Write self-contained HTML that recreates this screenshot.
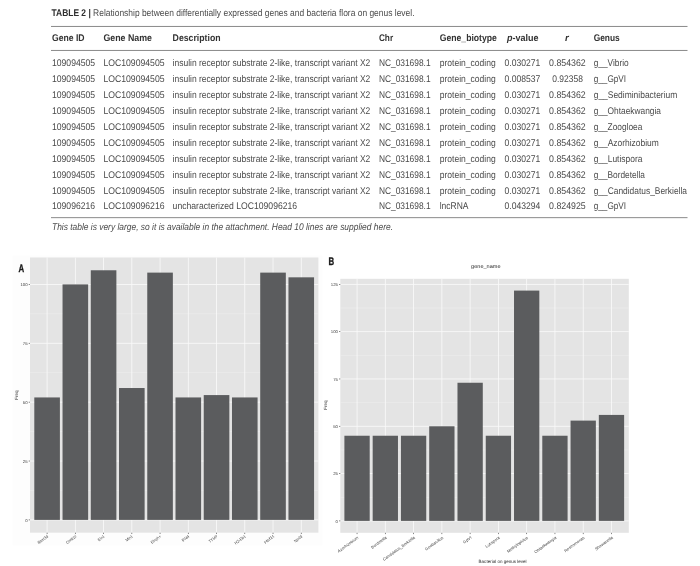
<!DOCTYPE html>
<html><head><meta charset="utf-8"><title>Table 2</title>
<style>html,body{margin:0;padding:0;background:#fff;}body{width:700px;height:566px;overflow:hidden;}svg{display:block;will-change:transform;text-rendering:geometricPrecision;filter:blur(0.35px);}text{font-family:"Liberation Sans",sans-serif;}</style></head><body>
<svg width="700" height="566" viewBox="0 0 700 566">
<rect x="0" y="0" width="700" height="566" fill="#ffffff"/>
<text x="51.5" y="16.1" font-size="9.7" fill="#4a4a4a" textLength="363" lengthAdjust="spacingAndGlyphs"><tspan font-weight="bold" fill="#2e2e2e">TABLE 2 |</tspan> Relationship between differentially expressed genes and bacteria flora on genus level.</text>
<rect x="51" y="25.95" width="636.5" height="1" fill="#8a8a8a"/>
<rect x="51" y="49.95" width="636.5" height="1" fill="#8a8a8a"/>
<rect x="51" y="217.15" width="636.5" height="1" fill="#8a8a8a"/>
<text x="52" y="41.4" font-size="9.7" font-weight="bold" font-style="normal" fill="#333333" text-anchor="start" textLength="32.6" lengthAdjust="spacingAndGlyphs">Gene ID</text>
<text x="103.4" y="41.4" font-size="9.7" font-weight="bold" font-style="normal" fill="#333333" text-anchor="start" textLength="48.6" lengthAdjust="spacingAndGlyphs">Gene Name</text>
<text x="172.6" y="41.4" font-size="9.7" font-weight="bold" font-style="normal" fill="#333333" text-anchor="start" textLength="48" lengthAdjust="spacingAndGlyphs">Description</text>
<text x="378.9" y="41.4" font-size="9.7" font-weight="bold" font-style="normal" fill="#333333" text-anchor="start" textLength="14.2" lengthAdjust="spacingAndGlyphs">Chr</text>
<text x="439.7" y="41.4" font-size="9.7" font-weight="bold" font-style="normal" fill="#333333" text-anchor="start" textLength="57.2" lengthAdjust="spacingAndGlyphs">Gene_biotype</text>
<text x="507.1" y="41.4" font-size="9.7" font-weight="bold" fill="#333333" textLength="31.5" lengthAdjust="spacingAndGlyphs"><tspan font-style="italic">p</tspan>-value</text>
<text x="566.8" y="41.4" font-size="9.7" font-weight="bold" font-style="italic" fill="#333333" text-anchor="middle">r</text>
<text x="593.7" y="41.4" font-size="9.7" font-weight="bold" font-style="normal" fill="#333333" text-anchor="start" textLength="26.1" lengthAdjust="spacingAndGlyphs">Genus</text>
<text x="52" y="66.0" font-size="9.7" font-weight="normal" font-style="normal" fill="#4a4a4a" text-anchor="start" textLength="43.1" lengthAdjust="spacingAndGlyphs">109094505</text>
<text x="103.4" y="66.0" font-size="9.7" font-weight="normal" font-style="normal" fill="#4a4a4a" text-anchor="start" textLength="61.2" lengthAdjust="spacingAndGlyphs">LOC109094505</text>
<text x="172.6" y="66.0" font-size="9.7" font-weight="normal" font-style="normal" fill="#4a4a4a" text-anchor="start" textLength="197.7" lengthAdjust="spacingAndGlyphs">insulin receptor substrate 2-like, transcript variant X2</text>
<text x="378.9" y="66.0" font-size="9.7" font-weight="normal" font-style="normal" fill="#4a4a4a" text-anchor="start" textLength="51.7" lengthAdjust="spacingAndGlyphs">NC_031698.1</text>
<text x="439.7" y="66.0" font-size="9.7" font-weight="normal" font-style="normal" fill="#4a4a4a" text-anchor="start" textLength="56" lengthAdjust="spacingAndGlyphs">protein_coding</text>
<text x="504.6" y="66.0" font-size="9.7" font-weight="normal" font-style="normal" fill="#4a4a4a" text-anchor="start" textLength="35.7" lengthAdjust="spacingAndGlyphs">0.030271</text>
<text x="549.1" y="66.0" font-size="9.7" font-weight="normal" font-style="normal" fill="#4a4a4a" text-anchor="start" textLength="36.6" lengthAdjust="spacingAndGlyphs">0.854362</text>
<text x="593.7" y="66.0" font-size="9.7" font-weight="normal" font-style="normal" fill="#4a4a4a" text-anchor="start" textLength="35.0" lengthAdjust="spacingAndGlyphs">g__Vibrio</text>
<text x="52" y="82.0" font-size="9.7" font-weight="normal" font-style="normal" fill="#4a4a4a" text-anchor="start" textLength="43.1" lengthAdjust="spacingAndGlyphs">109094505</text>
<text x="103.4" y="82.0" font-size="9.7" font-weight="normal" font-style="normal" fill="#4a4a4a" text-anchor="start" textLength="61.2" lengthAdjust="spacingAndGlyphs">LOC109094505</text>
<text x="172.6" y="82.0" font-size="9.7" font-weight="normal" font-style="normal" fill="#4a4a4a" text-anchor="start" textLength="197.7" lengthAdjust="spacingAndGlyphs">insulin receptor substrate 2-like, transcript variant X2</text>
<text x="378.9" y="82.0" font-size="9.7" font-weight="normal" font-style="normal" fill="#4a4a4a" text-anchor="start" textLength="51.7" lengthAdjust="spacingAndGlyphs">NC_031698.1</text>
<text x="439.7" y="82.0" font-size="9.7" font-weight="normal" font-style="normal" fill="#4a4a4a" text-anchor="start" textLength="56" lengthAdjust="spacingAndGlyphs">protein_coding</text>
<text x="504.6" y="82.0" font-size="9.7" font-weight="normal" font-style="normal" fill="#4a4a4a" text-anchor="start" textLength="35.7" lengthAdjust="spacingAndGlyphs">0.008537</text>
<text x="552.3" y="82.0" font-size="9.7" font-weight="normal" font-style="normal" fill="#4a4a4a" text-anchor="start" textLength="30.6" lengthAdjust="spacingAndGlyphs">0.92358</text>
<text x="593.7" y="82.0" font-size="9.7" font-weight="normal" font-style="normal" fill="#4a4a4a" text-anchor="start" textLength="32.4" lengthAdjust="spacingAndGlyphs">g__GpVI</text>
<text x="52" y="98.0" font-size="9.7" font-weight="normal" font-style="normal" fill="#4a4a4a" text-anchor="start" textLength="43.1" lengthAdjust="spacingAndGlyphs">109094505</text>
<text x="103.4" y="98.0" font-size="9.7" font-weight="normal" font-style="normal" fill="#4a4a4a" text-anchor="start" textLength="61.2" lengthAdjust="spacingAndGlyphs">LOC109094505</text>
<text x="172.6" y="98.0" font-size="9.7" font-weight="normal" font-style="normal" fill="#4a4a4a" text-anchor="start" textLength="197.7" lengthAdjust="spacingAndGlyphs">insulin receptor substrate 2-like, transcript variant X2</text>
<text x="378.9" y="98.0" font-size="9.7" font-weight="normal" font-style="normal" fill="#4a4a4a" text-anchor="start" textLength="51.7" lengthAdjust="spacingAndGlyphs">NC_031698.1</text>
<text x="439.7" y="98.0" font-size="9.7" font-weight="normal" font-style="normal" fill="#4a4a4a" text-anchor="start" textLength="56" lengthAdjust="spacingAndGlyphs">protein_coding</text>
<text x="504.6" y="98.0" font-size="9.7" font-weight="normal" font-style="normal" fill="#4a4a4a" text-anchor="start" textLength="35.7" lengthAdjust="spacingAndGlyphs">0.030271</text>
<text x="549.1" y="98.0" font-size="9.7" font-weight="normal" font-style="normal" fill="#4a4a4a" text-anchor="start" textLength="36.6" lengthAdjust="spacingAndGlyphs">0.854362</text>
<text x="593.7" y="98.0" font-size="9.7" font-weight="normal" font-style="normal" fill="#4a4a4a" text-anchor="start" textLength="83.6" lengthAdjust="spacingAndGlyphs">g__Sediminibacterium</text>
<text x="52" y="114.0" font-size="9.7" font-weight="normal" font-style="normal" fill="#4a4a4a" text-anchor="start" textLength="43.1" lengthAdjust="spacingAndGlyphs">109094505</text>
<text x="103.4" y="114.0" font-size="9.7" font-weight="normal" font-style="normal" fill="#4a4a4a" text-anchor="start" textLength="61.2" lengthAdjust="spacingAndGlyphs">LOC109094505</text>
<text x="172.6" y="114.0" font-size="9.7" font-weight="normal" font-style="normal" fill="#4a4a4a" text-anchor="start" textLength="197.7" lengthAdjust="spacingAndGlyphs">insulin receptor substrate 2-like, transcript variant X2</text>
<text x="378.9" y="114.0" font-size="9.7" font-weight="normal" font-style="normal" fill="#4a4a4a" text-anchor="start" textLength="51.7" lengthAdjust="spacingAndGlyphs">NC_031698.1</text>
<text x="439.7" y="114.0" font-size="9.7" font-weight="normal" font-style="normal" fill="#4a4a4a" text-anchor="start" textLength="56" lengthAdjust="spacingAndGlyphs">protein_coding</text>
<text x="504.6" y="114.0" font-size="9.7" font-weight="normal" font-style="normal" fill="#4a4a4a" text-anchor="start" textLength="35.7" lengthAdjust="spacingAndGlyphs">0.030271</text>
<text x="549.1" y="114.0" font-size="9.7" font-weight="normal" font-style="normal" fill="#4a4a4a" text-anchor="start" textLength="36.6" lengthAdjust="spacingAndGlyphs">0.854362</text>
<text x="593.7" y="114.0" font-size="9.7" font-weight="normal" font-style="normal" fill="#4a4a4a" text-anchor="start" textLength="67.3" lengthAdjust="spacingAndGlyphs">g__Ohtaekwangia</text>
<text x="52" y="130.0" font-size="9.7" font-weight="normal" font-style="normal" fill="#4a4a4a" text-anchor="start" textLength="43.1" lengthAdjust="spacingAndGlyphs">109094505</text>
<text x="103.4" y="130.0" font-size="9.7" font-weight="normal" font-style="normal" fill="#4a4a4a" text-anchor="start" textLength="61.2" lengthAdjust="spacingAndGlyphs">LOC109094505</text>
<text x="172.6" y="130.0" font-size="9.7" font-weight="normal" font-style="normal" fill="#4a4a4a" text-anchor="start" textLength="197.7" lengthAdjust="spacingAndGlyphs">insulin receptor substrate 2-like, transcript variant X2</text>
<text x="378.9" y="130.0" font-size="9.7" font-weight="normal" font-style="normal" fill="#4a4a4a" text-anchor="start" textLength="51.7" lengthAdjust="spacingAndGlyphs">NC_031698.1</text>
<text x="439.7" y="130.0" font-size="9.7" font-weight="normal" font-style="normal" fill="#4a4a4a" text-anchor="start" textLength="56" lengthAdjust="spacingAndGlyphs">protein_coding</text>
<text x="504.6" y="130.0" font-size="9.7" font-weight="normal" font-style="normal" fill="#4a4a4a" text-anchor="start" textLength="35.7" lengthAdjust="spacingAndGlyphs">0.030271</text>
<text x="549.1" y="130.0" font-size="9.7" font-weight="normal" font-style="normal" fill="#4a4a4a" text-anchor="start" textLength="36.6" lengthAdjust="spacingAndGlyphs">0.854362</text>
<text x="593.7" y="130.0" font-size="9.7" font-weight="normal" font-style="normal" fill="#4a4a4a" text-anchor="start" textLength="48.7" lengthAdjust="spacingAndGlyphs">g__Zoogloea</text>
<text x="52" y="146.0" font-size="9.7" font-weight="normal" font-style="normal" fill="#4a4a4a" text-anchor="start" textLength="43.1" lengthAdjust="spacingAndGlyphs">109094505</text>
<text x="103.4" y="146.0" font-size="9.7" font-weight="normal" font-style="normal" fill="#4a4a4a" text-anchor="start" textLength="61.2" lengthAdjust="spacingAndGlyphs">LOC109094505</text>
<text x="172.6" y="146.0" font-size="9.7" font-weight="normal" font-style="normal" fill="#4a4a4a" text-anchor="start" textLength="197.7" lengthAdjust="spacingAndGlyphs">insulin receptor substrate 2-like, transcript variant X2</text>
<text x="378.9" y="146.0" font-size="9.7" font-weight="normal" font-style="normal" fill="#4a4a4a" text-anchor="start" textLength="51.7" lengthAdjust="spacingAndGlyphs">NC_031698.1</text>
<text x="439.7" y="146.0" font-size="9.7" font-weight="normal" font-style="normal" fill="#4a4a4a" text-anchor="start" textLength="56" lengthAdjust="spacingAndGlyphs">protein_coding</text>
<text x="504.6" y="146.0" font-size="9.7" font-weight="normal" font-style="normal" fill="#4a4a4a" text-anchor="start" textLength="35.7" lengthAdjust="spacingAndGlyphs">0.030271</text>
<text x="549.1" y="146.0" font-size="9.7" font-weight="normal" font-style="normal" fill="#4a4a4a" text-anchor="start" textLength="36.6" lengthAdjust="spacingAndGlyphs">0.854362</text>
<text x="593.7" y="146.0" font-size="9.7" font-weight="normal" font-style="normal" fill="#4a4a4a" text-anchor="start" textLength="65.1" lengthAdjust="spacingAndGlyphs">g__Azorhizobium</text>
<text x="52" y="162.0" font-size="9.7" font-weight="normal" font-style="normal" fill="#4a4a4a" text-anchor="start" textLength="43.1" lengthAdjust="spacingAndGlyphs">109094505</text>
<text x="103.4" y="162.0" font-size="9.7" font-weight="normal" font-style="normal" fill="#4a4a4a" text-anchor="start" textLength="61.2" lengthAdjust="spacingAndGlyphs">LOC109094505</text>
<text x="172.6" y="162.0" font-size="9.7" font-weight="normal" font-style="normal" fill="#4a4a4a" text-anchor="start" textLength="197.7" lengthAdjust="spacingAndGlyphs">insulin receptor substrate 2-like, transcript variant X2</text>
<text x="378.9" y="162.0" font-size="9.7" font-weight="normal" font-style="normal" fill="#4a4a4a" text-anchor="start" textLength="51.7" lengthAdjust="spacingAndGlyphs">NC_031698.1</text>
<text x="439.7" y="162.0" font-size="9.7" font-weight="normal" font-style="normal" fill="#4a4a4a" text-anchor="start" textLength="56" lengthAdjust="spacingAndGlyphs">protein_coding</text>
<text x="504.6" y="162.0" font-size="9.7" font-weight="normal" font-style="normal" fill="#4a4a4a" text-anchor="start" textLength="35.7" lengthAdjust="spacingAndGlyphs">0.030271</text>
<text x="549.1" y="162.0" font-size="9.7" font-weight="normal" font-style="normal" fill="#4a4a4a" text-anchor="start" textLength="36.6" lengthAdjust="spacingAndGlyphs">0.854362</text>
<text x="593.7" y="162.0" font-size="9.7" font-weight="normal" font-style="normal" fill="#4a4a4a" text-anchor="start" textLength="48.7" lengthAdjust="spacingAndGlyphs">g__Lutispora</text>
<text x="52" y="178.0" font-size="9.7" font-weight="normal" font-style="normal" fill="#4a4a4a" text-anchor="start" textLength="43.1" lengthAdjust="spacingAndGlyphs">109094505</text>
<text x="103.4" y="178.0" font-size="9.7" font-weight="normal" font-style="normal" fill="#4a4a4a" text-anchor="start" textLength="61.2" lengthAdjust="spacingAndGlyphs">LOC109094505</text>
<text x="172.6" y="178.0" font-size="9.7" font-weight="normal" font-style="normal" fill="#4a4a4a" text-anchor="start" textLength="197.7" lengthAdjust="spacingAndGlyphs">insulin receptor substrate 2-like, transcript variant X2</text>
<text x="378.9" y="178.0" font-size="9.7" font-weight="normal" font-style="normal" fill="#4a4a4a" text-anchor="start" textLength="51.7" lengthAdjust="spacingAndGlyphs">NC_031698.1</text>
<text x="439.7" y="178.0" font-size="9.7" font-weight="normal" font-style="normal" fill="#4a4a4a" text-anchor="start" textLength="56" lengthAdjust="spacingAndGlyphs">protein_coding</text>
<text x="504.6" y="178.0" font-size="9.7" font-weight="normal" font-style="normal" fill="#4a4a4a" text-anchor="start" textLength="35.7" lengthAdjust="spacingAndGlyphs">0.030271</text>
<text x="549.1" y="178.0" font-size="9.7" font-weight="normal" font-style="normal" fill="#4a4a4a" text-anchor="start" textLength="36.6" lengthAdjust="spacingAndGlyphs">0.854362</text>
<text x="593.7" y="178.0" font-size="9.7" font-weight="normal" font-style="normal" fill="#4a4a4a" text-anchor="start" textLength="51.3" lengthAdjust="spacingAndGlyphs">g__Bordetella</text>
<text x="52" y="194.0" font-size="9.7" font-weight="normal" font-style="normal" fill="#4a4a4a" text-anchor="start" textLength="43.1" lengthAdjust="spacingAndGlyphs">109094505</text>
<text x="103.4" y="194.0" font-size="9.7" font-weight="normal" font-style="normal" fill="#4a4a4a" text-anchor="start" textLength="61.2" lengthAdjust="spacingAndGlyphs">LOC109094505</text>
<text x="172.6" y="194.0" font-size="9.7" font-weight="normal" font-style="normal" fill="#4a4a4a" text-anchor="start" textLength="197.7" lengthAdjust="spacingAndGlyphs">insulin receptor substrate 2-like, transcript variant X2</text>
<text x="378.9" y="194.0" font-size="9.7" font-weight="normal" font-style="normal" fill="#4a4a4a" text-anchor="start" textLength="51.7" lengthAdjust="spacingAndGlyphs">NC_031698.1</text>
<text x="439.7" y="194.0" font-size="9.7" font-weight="normal" font-style="normal" fill="#4a4a4a" text-anchor="start" textLength="56" lengthAdjust="spacingAndGlyphs">protein_coding</text>
<text x="504.6" y="194.0" font-size="9.7" font-weight="normal" font-style="normal" fill="#4a4a4a" text-anchor="start" textLength="35.7" lengthAdjust="spacingAndGlyphs">0.030271</text>
<text x="549.1" y="194.0" font-size="9.7" font-weight="normal" font-style="normal" fill="#4a4a4a" text-anchor="start" textLength="36.6" lengthAdjust="spacingAndGlyphs">0.854362</text>
<text x="593.7" y="194.0" font-size="9.7" font-weight="normal" font-style="normal" fill="#4a4a4a" text-anchor="start" textLength="93.3" lengthAdjust="spacingAndGlyphs">g__Candidatus_Berkiella</text>
<text x="52" y="209.0" font-size="9.7" font-weight="normal" font-style="normal" fill="#4a4a4a" text-anchor="start" textLength="43.1" lengthAdjust="spacingAndGlyphs">109096216</text>
<text x="103.4" y="209.0" font-size="9.7" font-weight="normal" font-style="normal" fill="#4a4a4a" text-anchor="start" textLength="61.2" lengthAdjust="spacingAndGlyphs">LOC109096216</text>
<text x="172.6" y="209.0" font-size="9.7" font-weight="normal" font-style="normal" fill="#4a4a4a" text-anchor="start" textLength="124.5" lengthAdjust="spacingAndGlyphs">uncharacterized LOC109096216</text>
<text x="378.9" y="209.0" font-size="9.7" font-weight="normal" font-style="normal" fill="#4a4a4a" text-anchor="start" textLength="51.7" lengthAdjust="spacingAndGlyphs">NC_031698.1</text>
<text x="439.7" y="209.0" font-size="9.7" font-weight="normal" font-style="normal" fill="#4a4a4a" text-anchor="start" textLength="28.8" lengthAdjust="spacingAndGlyphs">lncRNA</text>
<text x="504.6" y="209.0" font-size="9.7" font-weight="normal" font-style="normal" fill="#4a4a4a" text-anchor="start" textLength="35.7" lengthAdjust="spacingAndGlyphs">0.043294</text>
<text x="549.1" y="209.0" font-size="9.7" font-weight="normal" font-style="normal" fill="#4a4a4a" text-anchor="start" textLength="36.6" lengthAdjust="spacingAndGlyphs">0.824925</text>
<text x="593.7" y="209.0" font-size="9.7" font-weight="normal" font-style="normal" fill="#4a4a4a" text-anchor="start" textLength="32.4" lengthAdjust="spacingAndGlyphs">g__GpVI</text>
<text x="52" y="230.1" font-size="9.7" font-weight="normal" font-style="italic" fill="#4a4a4a" text-anchor="start" textLength="341" lengthAdjust="spacingAndGlyphs">This table is very large, so it is available in the attachment. Head 10 lines are supplied here.</text>
<rect x="12.5" y="255.5" width="310" height="290" fill="#fdfdfd"/>
<rect x="30.0" y="257.5" width="288.4" height="275.20000000000005" fill="#e4e4e4"/>
<rect x="30.0" y="490.21" width="288.4" height="0.5" fill="#efefef"/>
<rect x="30.0" y="431.34" width="288.4" height="0.5" fill="#efefef"/>
<rect x="30.0" y="372.46" width="288.4" height="0.5" fill="#efefef"/>
<rect x="30.0" y="313.59" width="288.4" height="0.5" fill="#efefef"/>
<rect x="30.0" y="519.50" width="288.4" height="0.8" fill="#fafafa"/>
<rect x="28.7" y="519.55" width="1.3" height="0.7" fill="#555"/>
<text x="27.7" y="521.70" font-size="4.2" fill="#454545" text-anchor="end" textLength="2.42" lengthAdjust="spacingAndGlyphs">0</text>
<rect x="30.0" y="460.62" width="288.4" height="0.8" fill="#fafafa"/>
<rect x="28.7" y="460.67" width="1.3" height="0.7" fill="#555"/>
<text x="27.7" y="462.82" font-size="4.2" fill="#454545" text-anchor="end" textLength="4.84" lengthAdjust="spacingAndGlyphs">25</text>
<rect x="30.0" y="401.75" width="288.4" height="0.8" fill="#fafafa"/>
<rect x="28.7" y="401.80" width="1.3" height="0.7" fill="#555"/>
<text x="27.7" y="403.95" font-size="4.2" fill="#454545" text-anchor="end" textLength="4.84" lengthAdjust="spacingAndGlyphs">50</text>
<rect x="30.0" y="342.88" width="288.4" height="0.8" fill="#fafafa"/>
<rect x="28.7" y="342.92" width="1.3" height="0.7" fill="#555"/>
<text x="27.7" y="345.07" font-size="4.2" fill="#454545" text-anchor="end" textLength="4.84" lengthAdjust="spacingAndGlyphs">75</text>
<rect x="30.0" y="284.00" width="288.4" height="0.8" fill="#fafafa"/>
<rect x="28.7" y="284.05" width="1.3" height="0.7" fill="#555"/>
<text x="27.7" y="286.20" font-size="4.2" fill="#454545" text-anchor="end" textLength="7.26" lengthAdjust="spacingAndGlyphs">100</text>
<rect x="46.70" y="257.5" width="0.8" height="275.20000000000005" fill="#fafafa"/>
<rect x="46.75" y="532.7" width="0.7" height="1.3" fill="#555"/>
<rect x="74.94" y="257.5" width="0.8" height="275.20000000000005" fill="#fafafa"/>
<rect x="74.99" y="532.7" width="0.7" height="1.3" fill="#555"/>
<rect x="103.18" y="257.5" width="0.8" height="275.20000000000005" fill="#fafafa"/>
<rect x="103.23" y="532.7" width="0.7" height="1.3" fill="#555"/>
<rect x="131.42" y="257.5" width="0.8" height="275.20000000000005" fill="#fafafa"/>
<rect x="131.47" y="532.7" width="0.7" height="1.3" fill="#555"/>
<rect x="159.66" y="257.5" width="0.8" height="275.20000000000005" fill="#fafafa"/>
<rect x="159.71" y="532.7" width="0.7" height="1.3" fill="#555"/>
<rect x="187.90" y="257.5" width="0.8" height="275.20000000000005" fill="#fafafa"/>
<rect x="187.95" y="532.7" width="0.7" height="1.3" fill="#555"/>
<rect x="216.14" y="257.5" width="0.8" height="275.20000000000005" fill="#fafafa"/>
<rect x="216.19" y="532.7" width="0.7" height="1.3" fill="#555"/>
<rect x="244.38" y="257.5" width="0.8" height="275.20000000000005" fill="#fafafa"/>
<rect x="244.43" y="532.7" width="0.7" height="1.3" fill="#555"/>
<rect x="272.62" y="257.5" width="0.8" height="275.20000000000005" fill="#fafafa"/>
<rect x="272.67" y="532.7" width="0.7" height="1.3" fill="#555"/>
<rect x="300.86" y="257.5" width="0.8" height="275.20000000000005" fill="#fafafa"/>
<rect x="300.91" y="532.7" width="0.7" height="1.3" fill="#555"/>
<rect x="34.30" y="397.44" width="25.6" height="122.46" fill="#5b5c5e"/>
<rect x="62.54" y="284.40" width="25.6" height="235.50" fill="#5b5c5e"/>
<rect x="90.78" y="270.27" width="25.6" height="249.63" fill="#5b5c5e"/>
<rect x="119.02" y="388.02" width="25.6" height="131.88" fill="#5b5c5e"/>
<rect x="147.26" y="272.62" width="25.6" height="247.28" fill="#5b5c5e"/>
<rect x="175.50" y="397.44" width="25.6" height="122.46" fill="#5b5c5e"/>
<rect x="203.74" y="395.08" width="25.6" height="124.81" fill="#5b5c5e"/>
<rect x="231.98" y="397.44" width="25.6" height="122.46" fill="#5b5c5e"/>
<rect x="260.22" y="272.62" width="25.6" height="247.28" fill="#5b5c5e"/>
<rect x="288.46" y="277.33" width="25.6" height="242.56" fill="#5b5c5e"/>
<text x="48.50" y="537.00" font-size="4.1" fill="#454545" text-anchor="end" textLength="12.2" lengthAdjust="spacingAndGlyphs" transform="rotate(-37 48.50 537.00)">Ifitm3d</text>
<text x="76.74" y="537.00" font-size="4.1" fill="#454545" text-anchor="end" textLength="12.0" lengthAdjust="spacingAndGlyphs" transform="rotate(-37 76.74 537.00)">Ctnnb1d</text>
<text x="104.98" y="537.00" font-size="4.1" fill="#454545" text-anchor="end" textLength="7.4" lengthAdjust="spacingAndGlyphs" transform="rotate(-37 104.98 537.00)">Eln1</text>
<text x="133.22" y="537.00" font-size="4.1" fill="#454545" text-anchor="end" textLength="8.0" lengthAdjust="spacingAndGlyphs" transform="rotate(-37 133.22 537.00)">Mln1</text>
<text x="161.46" y="537.00" font-size="4.1" fill="#454545" text-anchor="end" textLength="11.8" lengthAdjust="spacingAndGlyphs" transform="rotate(-37 161.46 537.00)">Efnph+</text>
<text x="189.70" y="537.00" font-size="4.1" fill="#454545" text-anchor="end" textLength="8.4" lengthAdjust="spacingAndGlyphs" transform="rotate(-37 189.70 537.00)">IFI44</text>
<text x="217.94" y="537.00" font-size="4.1" fill="#454545" text-anchor="end" textLength="9.9" lengthAdjust="spacingAndGlyphs" transform="rotate(-37 217.94 537.00)">TYMP</text>
<text x="246.18" y="537.00" font-size="4.1" fill="#454545" text-anchor="end" textLength="12.9" lengthAdjust="spacingAndGlyphs" transform="rotate(-37 246.18 537.00)">H2-Eb1</text>
<text x="274.42" y="537.00" font-size="4.1" fill="#454545" text-anchor="end" textLength="11.6" lengthAdjust="spacingAndGlyphs" transform="rotate(-37 274.42 537.00)">Hsf1t</text>
<text x="302.66" y="537.00" font-size="4.1" fill="#454545" text-anchor="end" textLength="9.4" lengthAdjust="spacingAndGlyphs" transform="rotate(-37 302.66 537.00)">Npr2d</text>
<text x="0" y="0" font-size="10.9" font-weight="bold" fill="#1a1a1a" stroke="#1a1a1a" stroke-width="0.35" transform="translate(18.4 271.6) scale(0.72 1)">A</text>
<text x="17.6" y="395" font-size="4.5" fill="#2a2a2a" text-anchor="middle" transform="rotate(-90 17.6 395)">Freq</text>
<rect x="340.3" y="278.8" width="288.49999999999994" height="253.99999999999994" fill="#e4e4e4"/>
<rect x="340.3" y="497.00" width="288.49999999999994" height="0.5" fill="#efefef"/>
<rect x="340.3" y="449.68" width="288.49999999999994" height="0.5" fill="#efefef"/>
<rect x="340.3" y="402.38" width="288.49999999999994" height="0.5" fill="#efefef"/>
<rect x="340.3" y="355.06" width="288.49999999999994" height="0.5" fill="#efefef"/>
<rect x="340.3" y="307.75" width="288.49999999999994" height="0.5" fill="#efefef"/>
<rect x="340.3" y="520.50" width="288.49999999999994" height="0.8" fill="#fafafa"/>
<rect x="339.0" y="520.55" width="1.3" height="0.7" fill="#555"/>
<text x="338.0" y="522.70" font-size="4.2" fill="#454545" text-anchor="end" textLength="2.42" lengthAdjust="spacingAndGlyphs">0</text>
<rect x="340.3" y="473.19" width="288.49999999999994" height="0.8" fill="#fafafa"/>
<rect x="339.0" y="473.24" width="1.3" height="0.7" fill="#555"/>
<text x="338.0" y="475.39" font-size="4.2" fill="#454545" text-anchor="end" textLength="4.84" lengthAdjust="spacingAndGlyphs">25</text>
<rect x="340.3" y="425.88" width="288.49999999999994" height="0.8" fill="#fafafa"/>
<rect x="339.0" y="425.93" width="1.3" height="0.7" fill="#555"/>
<text x="338.0" y="428.08" font-size="4.2" fill="#454545" text-anchor="end" textLength="4.84" lengthAdjust="spacingAndGlyphs">50</text>
<rect x="340.3" y="378.57" width="288.49999999999994" height="0.8" fill="#fafafa"/>
<rect x="339.0" y="378.62" width="1.3" height="0.7" fill="#555"/>
<text x="338.0" y="380.77" font-size="4.2" fill="#454545" text-anchor="end" textLength="4.84" lengthAdjust="spacingAndGlyphs">75</text>
<rect x="340.3" y="331.26" width="288.49999999999994" height="0.8" fill="#fafafa"/>
<rect x="339.0" y="331.31" width="1.3" height="0.7" fill="#555"/>
<text x="338.0" y="333.46" font-size="4.2" fill="#454545" text-anchor="end" textLength="7.26" lengthAdjust="spacingAndGlyphs">100</text>
<rect x="340.3" y="283.95" width="288.49999999999994" height="0.8" fill="#fafafa"/>
<rect x="339.0" y="284.00" width="1.3" height="0.7" fill="#555"/>
<text x="338.0" y="286.15" font-size="4.2" fill="#454545" text-anchor="end" textLength="7.26" lengthAdjust="spacingAndGlyphs">125</text>
<rect x="356.65" y="278.8" width="0.8" height="253.99999999999994" fill="#fafafa"/>
<rect x="356.70" y="532.8" width="0.7" height="1.3" fill="#555"/>
<rect x="384.92" y="278.8" width="0.8" height="253.99999999999994" fill="#fafafa"/>
<rect x="384.97" y="532.8" width="0.7" height="1.3" fill="#555"/>
<rect x="413.19" y="278.8" width="0.8" height="253.99999999999994" fill="#fafafa"/>
<rect x="413.24" y="532.8" width="0.7" height="1.3" fill="#555"/>
<rect x="441.46" y="278.8" width="0.8" height="253.99999999999994" fill="#fafafa"/>
<rect x="441.51" y="532.8" width="0.7" height="1.3" fill="#555"/>
<rect x="469.73" y="278.8" width="0.8" height="253.99999999999994" fill="#fafafa"/>
<rect x="469.78" y="532.8" width="0.7" height="1.3" fill="#555"/>
<rect x="498.00" y="278.8" width="0.8" height="253.99999999999994" fill="#fafafa"/>
<rect x="498.05" y="532.8" width="0.7" height="1.3" fill="#555"/>
<rect x="526.27" y="278.8" width="0.8" height="253.99999999999994" fill="#fafafa"/>
<rect x="526.32" y="532.8" width="0.7" height="1.3" fill="#555"/>
<rect x="554.54" y="278.8" width="0.8" height="253.99999999999994" fill="#fafafa"/>
<rect x="554.59" y="532.8" width="0.7" height="1.3" fill="#555"/>
<rect x="582.81" y="278.8" width="0.8" height="253.99999999999994" fill="#fafafa"/>
<rect x="582.86" y="532.8" width="0.7" height="1.3" fill="#555"/>
<rect x="611.08" y="278.8" width="0.8" height="253.99999999999994" fill="#fafafa"/>
<rect x="611.13" y="532.8" width="0.7" height="1.3" fill="#555"/>
<rect x="344.40" y="435.74" width="25.3" height="85.16" fill="#5b5c5e"/>
<rect x="372.67" y="435.74" width="25.3" height="85.16" fill="#5b5c5e"/>
<rect x="400.94" y="435.74" width="25.3" height="85.16" fill="#5b5c5e"/>
<rect x="429.21" y="426.28" width="25.3" height="94.62" fill="#5b5c5e"/>
<rect x="457.48" y="382.75" width="25.3" height="138.15" fill="#5b5c5e"/>
<rect x="485.75" y="435.74" width="25.3" height="85.16" fill="#5b5c5e"/>
<rect x="514.02" y="290.59" width="25.3" height="230.31" fill="#5b5c5e"/>
<rect x="542.29" y="435.74" width="25.3" height="85.16" fill="#5b5c5e"/>
<rect x="570.56" y="420.60" width="25.3" height="100.30" fill="#5b5c5e"/>
<rect x="598.83" y="414.93" width="25.3" height="105.97" fill="#5b5c5e"/>
<text x="358.85" y="538.20" font-size="4.1" fill="#454545" text-anchor="end" transform="rotate(-36 358.85 538.20)">Azorhizobium</text>
<text x="387.12" y="538.20" font-size="4.1" fill="#454545" text-anchor="end" transform="rotate(-36 387.12 538.20)">Bordetella</text>
<text x="415.39" y="538.20" font-size="4.1" fill="#454545" text-anchor="end" transform="rotate(-36 415.39 538.20)">Candidatus_Berkiella</text>
<text x="443.66" y="538.20" font-size="4.1" fill="#454545" text-anchor="end" transform="rotate(-36 443.66 538.20)">Geobacillus</text>
<text x="471.93" y="538.20" font-size="4.1" fill="#454545" text-anchor="end" transform="rotate(-36 471.93 538.20)">GpVI</text>
<text x="500.20" y="538.20" font-size="4.1" fill="#454545" text-anchor="end" transform="rotate(-36 500.20 538.20)">Lutispora</text>
<text x="528.47" y="538.20" font-size="4.1" fill="#454545" text-anchor="end" transform="rotate(-36 528.47 538.20)">Methylophilus</text>
<text x="556.74" y="538.20" font-size="4.1" fill="#454545" text-anchor="end" transform="rotate(-36 556.74 538.20)">Ohtaekwangia</text>
<text x="585.01" y="538.20" font-size="4.1" fill="#454545" text-anchor="end" transform="rotate(-36 585.01 538.20)">Roseomonas</text>
<text x="613.28" y="538.20" font-size="4.1" fill="#454545" text-anchor="end" transform="rotate(-36 613.28 538.20)">Shewanella</text>
<text x="0" y="0" font-size="10.9" font-weight="bold" fill="#1a1a1a" stroke="#1a1a1a" stroke-width="0.35" transform="translate(328.5 264.9) scale(0.72 1)">B</text>
<text x="327" y="405" font-size="4.5" fill="#2a2a2a" text-anchor="middle" transform="rotate(-90 327 405)">Freq</text>
<text x="471.1" y="267.7" font-size="5.2" font-weight="normal" font-style="normal" fill="#2a2a2a" text-anchor="start" textLength="29.5" lengthAdjust="spacingAndGlyphs">gene_name</text>
<text x="478.6" y="562.6" font-size="4.6" font-weight="normal" font-style="normal" fill="#2a2a2a" text-anchor="start" textLength="48" lengthAdjust="spacingAndGlyphs">Bacterial on genus level</text>
</svg></body></html>
